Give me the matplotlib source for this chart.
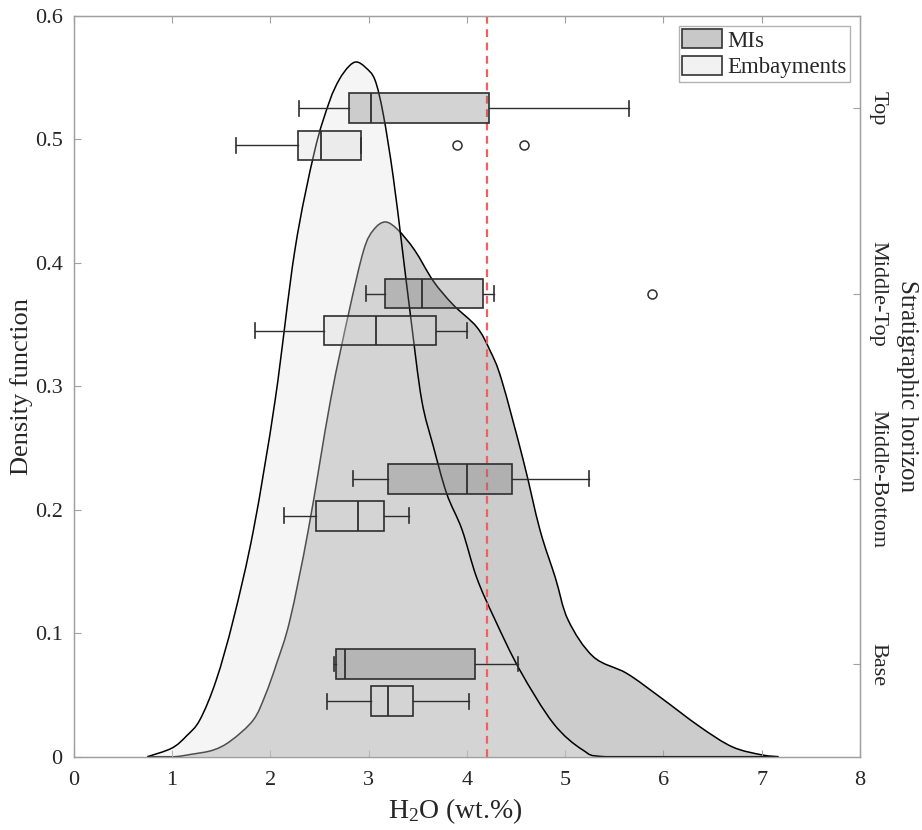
import matplotlib
matplotlib.use("Agg")
import matplotlib.pyplot as plt
from matplotlib.patches import Patch, PathPatch
from matplotlib.path import Path

plt.rcParams['font.family'] = ['Liberation Serif', 'DejaVu Serif']
plt.rcParams['mathtext.fontset'] = 'custom'
plt.rcParams['mathtext.rm'] = 'Liberation Serif'
plt.rcParams['mathtext.it'] = 'Liberation Serif:italic'

# ---------------- data ----------------
horizons = ['Base', 'Middle-Bottom', 'Middle-Top', 'Top']
horizon_pos = [0.075, 0.225, 0.375, 0.525]
emb_pos = [0.045, 0.195, 0.345, 0.495]

# density curve of embayments
emb_x = [0.75, 1.00, 1.15, 1.285, 1.45, 1.624, 1.83, 2.05, 2.25, 2.45,
         2.60, 2.70, 2.80, 2.88, 2.97, 3.065, 3.15, 3.25, 3.345, 3.43, 3.54,
         3.66, 3.795, 3.95, 4.10, 4.286, 4.54, 4.88, 5.18, 5.41, 6.3, 7.17]
emb_y = [0.0, 0.007, 0.017, 0.030, 0.062, 0.111, 0.184, 0.289, 0.41, 0.49,
         0.53, 0.548, 0.559, 0.5625, 0.558, 0.548, 0.52, 0.47, 0.41, 0.355, 0.289,
         0.251, 0.213, 0.184, 0.145, 0.111, 0.070, 0.027, 0.0054, 0.0, 0.0, 0.0]

# density curve of melt inclusions
mi_x = [0.75, 1.02, 1.20, 1.42, 1.60, 1.827, 1.95, 2.065, 2.20, 2.387, 2.614, 2.80,
        2.95, 3.05, 3.17, 3.30, 3.47, 3.66, 3.86, 4.10, 4.235, 4.354, 4.574,
        4.744, 4.90, 5.03, 5.286, 5.626, 5.96, 6.37, 6.70, 7.00, 7.17]
mi_y = [0.0, 0.0, 0.002, 0.0054, 0.013, 0.0297, 0.050, 0.0756, 0.1107, 0.1836, 0.289, 0.36,
        0.41, 0.4265, 0.433, 0.4265, 0.41, 0.385, 0.366, 0.348, 0.329, 0.305, 0.240,
        0.1836, 0.145, 0.1107, 0.081, 0.0675, 0.0486, 0.0243, 0.008, 0.0015, 0.0]

# box statistics (Base, Middle-Bottom, Middle-Top, Top)
mi_whislo = [2.645, 2.841, 2.977, 2.295]
mi_q1 = [2.671, 3.197, 3.164, 2.797]
mi_med = [2.763, 3.998, 3.546, 3.024]
mi_q3 = [4.079, 4.456, 4.164, 4.228]
mi_whishi = [4.517, 5.245, 4.273, 5.649]
mi_fliers = [[], [], [5.88], []]

emb_whislo = [2.58, 2.139, 1.847, 1.648]
emb_q1 = [3.027, 2.462, 2.546, 2.284]
emb_med = [3.20, 2.895, 3.075, 2.516]
emb_q3 = [3.449, 3.157, 3.689, 2.927]
emb_whishi = [4.021, 3.408, 3.998, 2.927]
emb_fliers = [[], [], [], [3.899, 4.577]]

ref_line = 4.21


def smooth_path(xs, ys, close=False):
    """Catmull-Rom curve through the read points, rendered as Bezier path."""
    pts = list(zip(xs, ys))
    n = len(pts)
    verts = [pts[0]]
    codes = [Path.MOVETO]
    for i in range(n - 1):
        p0 = pts[i - 1] if i > 0 else pts[i]
        p1 = pts[i]
        p2 = pts[i + 1]
        p3 = pts[i + 2] if i + 2 < n else pts[i + 1]
        c1 = (p1[0] + (p2[0] - p0[0]) / 6.0, max(0.0, p1[1] + (p2[1] - p0[1]) / 6.0))
        c2 = (p2[0] - (p3[0] - p1[0]) / 6.0, max(0.0, p2[1] - (p3[1] - p1[1]) / 6.0))
        verts += [c1, c2, p2]
        codes += [Path.CURVE4] * 3
    if close:
        verts.append(pts[0])
        codes.append(Path.LINETO)
    return Path(verts, codes)


# ---------------- figure ----------------
fig = plt.figure(figsize=(9.22, 8.3), dpi=100)
ax = fig.add_axes([0.0799, 0.0883, 0.8529, 0.8928])

txt = '#262626'
spine = '#a0a0a0'

ax.add_patch(PathPatch(smooth_path(mi_x, mi_y, True), facecolor=(0.8, 0.8, 0.8),
                       edgecolor='none', zorder=1))
ax.add_patch(PathPatch(smooth_path(mi_x, mi_y), facecolor='none', edgecolor='black',
                       lw=1.1, zorder=1.5))
ax.add_patch(PathPatch(smooth_path(emb_x, emb_y, True), facecolor=(0.89, 0.89, 0.89),
                       alpha=0.35, edgecolor='none', zorder=2))
ax.add_patch(PathPatch(smooth_path(emb_x, emb_y), facecolor='none', edgecolor='black',
                       lw=1.1, zorder=2.5))

ax.axvline(ref_line, color='#f06060', lw=1.6, ls=(0, (3.5, 2.5)), zorder=3)


def make_stats(whislo, q1, med, q3, whishi, fliers):
    return [dict(whislo=a, q1=b, med=c, q3=d, whishi=e, fliers=f)
            for a, b, c, d, e, f in zip(whislo, q1, med, q3, whishi, fliers)]


def draw_boxes(stats, pos, face):
    edge = '#2e2e2e'
    ax.bxp(stats, positions=pos, widths=0.024, capwidths=0.012,
           orientation='horizontal', patch_artist=True, manage_ticks=False,
           boxprops=dict(facecolor=face, edgecolor=edge, lw=1.2),
           medianprops=dict(color=edge, lw=1.3),
           whiskerprops=dict(color=edge, lw=1.0),
           capprops=dict(color=edge, lw=1.2),
           flierprops=dict(marker='o', markerfacecolor='none', markeredgecolor=edge,
                           markersize=6.5, markeredgewidth=1.1),
           zorder=4)


mi_face = (0.45, 0.45, 0.45, 0.31)
emb_face = (0.83, 0.83, 0.83, 0.30)
draw_boxes(make_stats(mi_whislo, mi_q1, mi_med, mi_q3, mi_whishi, mi_fliers), horizon_pos, mi_face)
draw_boxes(make_stats(emb_whislo, emb_q1, emb_med, emb_q3, emb_whishi, emb_fliers), emb_pos, emb_face)

ax.set_xlim(0, 8)
ax.set_ylim(0, 0.6)
ax.set_xticks(range(0, 9))
ax.set_yticks([0, 0.1, 0.2, 0.3, 0.4, 0.5, 0.6])
ax.set_yticklabels(['0', '0.1', '0.2', '0.3', '0.4', '0.5', '0.6'])
ax.tick_params(axis='x', direction='in', top=True, bottom=True, length=5, color=spine,
               labelsize=16, labelcolor=txt, pad=10)
ax.tick_params(axis='y', direction='in', left=True, right=False, length=5, color=spine,
               labelsize=16, labelcolor=txt, pad=8)
for s in ax.spines.values():
    s.set_color(spine)
    s.set_linewidth(1.0)

ax.set_xlabel(r'H$_\mathrm{2}$O (wt.%)', fontsize=20, color=txt)
ax.xaxis.set_label_coords(0.485, -0.054)
ax.set_ylabel('Density function', fontsize=19, color=txt)
ax.yaxis.set_label_coords(-0.052, 0.5)

ax2 = ax.twinx()
ax2.set_ylim(0, 0.6)
ax2.set_yticks(horizon_pos)
ax2.set_yticklabels(horizons, rotation=-90, va='center', ha='left')
ax2.tick_params(axis='y', direction='in', length=5, color=spine, labelsize=16,
                labelcolor=txt, pad=6)
for s in ax2.spines.values():
    s.set_color(spine)
ax2.set_ylabel('Stratigraphic horizon', rotation=-90, fontsize=18, color=txt,
               va='bottom', ha='center', rotation_mode='anchor')
ax2.yaxis.set_label_coords(1.0458, 0.5)

handles = [Patch(facecolor='#c8c8c8', edgecolor='#333333', lw=1.2),
           Patch(facecolor='#f2f2f2', edgecolor='#333333', lw=1.2)]
leg = ax.legend(handles, ['MIs', 'Embayments'], loc='upper right', fontsize=16.5,
                frameon=True, fancybox=False, borderpad=0.15, labelspacing=0.2,
                handlelength=1.75, handleheight=0.87, handletextpad=0.2,
                borderaxespad=0.45, edgecolor='#a0a0a0')
leg.get_frame().set_linewidth(1.0)
for t in leg.get_texts():
    t.set_color(txt)

fig.savefig('out.png', dpi=100)
